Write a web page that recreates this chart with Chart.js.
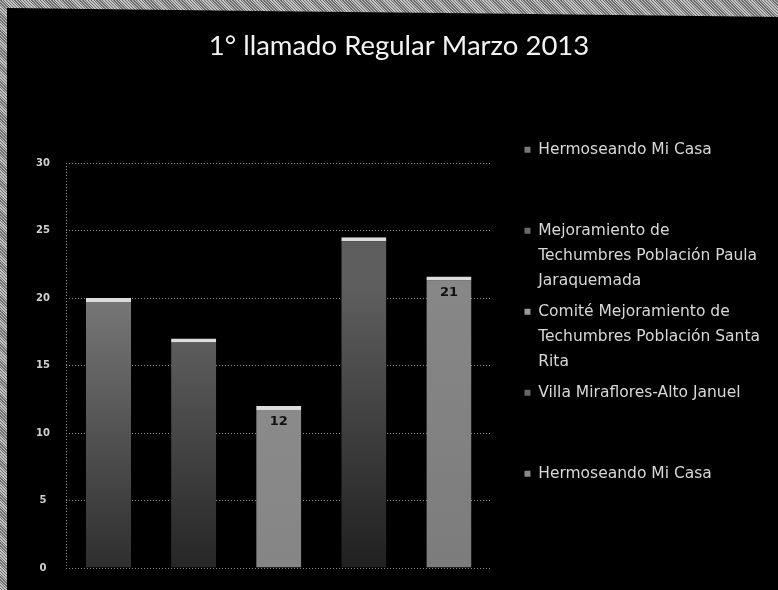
<!DOCTYPE html>
<html>
<head>
<meta charset="utf-8">
<script src="https://cdn.jsdelivr.net/npm/chart.js@4.4.0/dist/chart.umd.min.js"></script>
<style>
    html, body {
        margin: 0;
        padding: 0;
        width: 778px;
        height: 590px;
        overflow: hidden;
        background: repeating-linear-gradient(45deg, #c4c4c4 0 1px, #6e6e6e 1px 2px);
    }
    #frame {
        position: absolute;
        left: 7px;
        top: 0;
        width: 771px;
        height: 590px;
        background: #000;
        clip-path: polygon(0 8px, 100% 17px, 100% 100%, 0 100%);
    }
    #wrap {
        position: absolute;
        left: 7px;
        top: 0;
        width: 784px;
        height: 590px;
    }
</style>
</head>
<body>
<div id="frame"></div>
<div id="wrap"><canvas id="chart" width="784" height="590"></canvas></div>
<script>
// Series (one bar each)
const seriesNames = [
    'Hermoseando Mi Casa',
    'Mejoramiento de Techumbres Población Paula Jaraquemada',
    'Comité Mejoramiento de Techumbres Población Santa Rita',
    'Villa Miraflores-Alto Januel',
    'Hermoseando Mi Casa'
];
const legendLines = [
    ['Hermoseando Mi Casa', '', ''],
    ['Mejoramiento de', 'Techumbres Población Paula', 'Jaraquemada'],
    ['Comité Mejoramiento de', 'Techumbres Población Santa', 'Rita'],
    ['Villa Miraflores-Alto Januel', '', ''],
    ['Hermoseando Mi Casa']
];
const seriesValues = [20, 17, 12, 24.5, 21.6];
const valueLabels = ['', '', '12', '', '21'];
const categories = [''];
const yMin = 0;
const yMax = 32;
const yTop = 30;
const yStep = 5;

// Styles
const topColors = ['#7a7a7a', '#6a6a6a', '#8e8e8e', '#5e5e5e', '#878787'];
const bottomColors = ['#2e2e2e', '#262626', '#858585', '#202020', '#7c7c7c'];
const legendColors = ['#777777', '#6a6a6a', '#999999', '#666666', '#8a8a8a'];

function barGradient(index) {
    return function(context) {
        const chart = context.chart;
        const area = chart.chartArea;
        if (!area) return topColors[index];
        const g = chart.ctx.createLinearGradient(0, area.bottom, 0, area.top);
        g.addColorStop(0, bottomColors[index]);
        g.addColorStop(0.65, topColors[index]);
        g.addColorStop(1, topColors[index]);
        return g;
    };
}

const datasets = seriesNames.map((name, i) => ({
    label: name,
    data: [seriesValues[i]],
    backgroundColor: barGradient(i),
    borderColor: '#dcdcdc',
    borderWidth: { top: 4, left: 0, right: 0, bottom: 0 },
    borderSkipped: 'start',
    categoryPercentage: 1,
    barPercentage: 0.53
}));

// Dotted value axis line, only over the ticked range
const axisLinePlugin = {
    id: 'axisLine',
    beforeDatasetsDraw(chart) {
        const ctx = chart.ctx;
        const y = chart.scales.y;
        const x = Math.round(chart.chartArea.left) + 0.5;
        ctx.save();
        ctx.strokeStyle = '#8c8c8c';
        ctx.lineWidth = 1;
        ctx.setLineDash([1, 2]);
        ctx.beginPath();
        ctx.moveTo(x, y.getPixelForValue(yTop));
        ctx.lineTo(x, y.getPixelForValue(yMin));
        ctx.stroke();
        ctx.restore();
    }
};

// Draw the value labels inside the bars
const valueLabelPlugin = {
    id: 'valueLabels',
    afterDatasetsDraw(chart) {
        const ctx = chart.ctx;
        ctx.save();
        ctx.font = 'bold 13px "DejaVu Sans"';
        ctx.fillStyle = '#111';
        ctx.textAlign = 'center';
        ctx.textBaseline = 'middle';
        chart.data.datasets.forEach((ds, i) => {
            const text = valueLabels[i];
            if (!text) return;
            const bar = chart.getDatasetMeta(i).data[0];
            ctx.fillText(text, bar.x, bar.y + 16);
        });
        ctx.restore();
    }
};

const config = {
    type: 'bar',
    data: { labels: categories, datasets },
    options: {
        responsive: false,
        animation: false,
        layout: { padding: { bottom: 22 } },
        plugins: {
            title: {
                display: true,
                text: '1° llamado Regular Marzo 2013',
                color: '#f2f2f2',
                font: { family: 'Lato', size: 27.5, weight: 'normal' },
                padding: { top: 30, bottom: 73 }
            },
            legend: {
                display: true,
                position: 'right',
                align: 'start',
                fullSize: false,
                maxWidth: 400,
                labels: {
                    color: '#d8d8d8',
                    font: { family: '"DejaVu Sans"', size: 15.5, lineHeight: '25px' },
                    boxWidth: 6,
                    boxHeight: 6,
                    padding: 6,
                    generateLabels(chart) {
                        return chart.data.datasets.map((ds, i) => ({
                            text: legendLines[i],
                            fillStyle: legendColors[i],
                            strokeStyle: legendColors[i],
                            lineWidth: 0,
                            fontColor: '#d8d8d8',
                            hidden: false,
                            datasetIndex: i
                        }));
                    }
                }
            },
            tooltip: { enabled: false }
        },
        scales: {
            x: {
                display: false
            },
            y: {
                min: yMin,
                max: yMax,
                ticks: {
                    stepSize: yStep,
                    includeBounds: false,
                    color: '#d0d0d0',
                    font: { family: '"DejaVu Sans"', size: 10, weight: 'bold' },
                    padding: 16,
                    crossAlign: 'center'
                },
                grid: {
                    color: '#8c8c8c',
                    lineWidth: 1,
                    drawTicks: false
                },
                border: {
                    display: false,
                    dash: [1, 2]
                },
                afterFit(scale) {
                    scale.width = 59;
                }
            },
            gap: {
                type: 'linear',
                position: 'right',
                display: true,
                weight: 0,
                grid: { display: false },
                ticks: { display: false },
                border: { display: false },
                afterFit(scale) {
                    scale.width = 27;
                }
            },
            edge: {
                type: 'linear',
                position: 'right',
                display: true,
                weight: 2000,
                grid: { display: false },
                ticks: { display: false },
                border: { display: false },
                afterFit(scale) {
                    scale.width = 21;
                }
            }
        }
    },
    plugins: [axisLinePlugin, valueLabelPlugin]
};

new Chart(document.getElementById('chart'), config);
</script>
</body>
</html>
